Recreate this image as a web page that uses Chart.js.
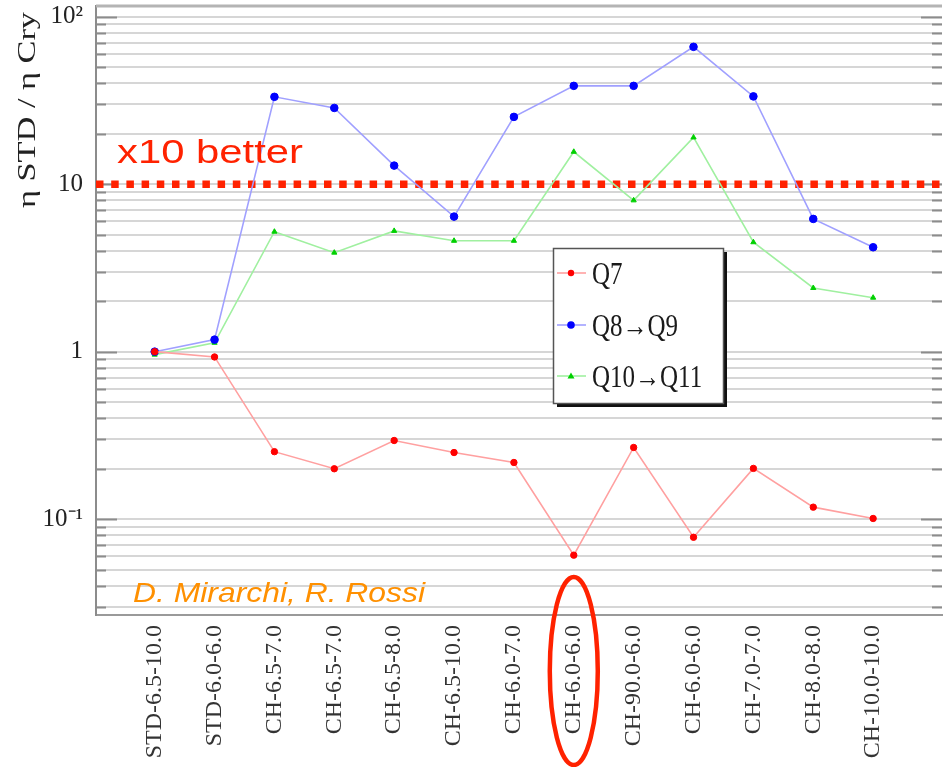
<!DOCTYPE html>
<html>
<head>
<meta charset="utf-8">
<script src="https://cdn.jsdelivr.net/npm/chart.js@4/dist/chart.umd.min.js"></script>
<style>
  html, body { margin: 0; padding: 0; background: #fff; overflow: hidden; }
  canvas { display: block; }
</style>
</head>
<body>
<canvas id="chart" width="947" height="767"></canvas>
<script>
// Collimator configurations (x categories)
const configs = ['STD-6.5-10.0', 'STD-6.0-6.0', 'CH-6.5-7.0', 'CH-6.5-7.0', 'CH-6.5-8.0',
  'CH-6.5-10.0', 'CH-6.0-7.0', 'CH-6.0-6.0', 'CH-90.0-6.0', 'CH-6.0-6.0',
  'CH-7.0-7.0', 'CH-8.0-8.0', 'CH-10.0-10.0'];

// Cleaning inefficiency ratio eta STD / eta Cry per loss location
const q7     = [1.0, 0.93, 0.253, 0.200, 0.295, 0.250, 0.218, 0.061, 0.268, 0.078, 0.201, 0.118, 0.101];
const q8q9   = [1.0, 1.18, 33.2, 28.5, 12.9, 6.4, 25.2, 38.6, 38.6, 66.0, 33.4, 6.2, 4.2];
const q10q11 = [0.96, 1.13, 5.2, 3.9, 5.26, 4.59, 4.59, 15.6, 8.0, 19.0, 4.5, 2.4, 2.1];

const seriesNames = ['Q7', 'Q8\u2192Q9', 'Q10\u2192Q11'];

// Reference level for a factor 10 improvement
const betterLevel = 10;

// Labelled decades on the log axis
const yTickValues = [0.1, 1, 10, 100];
const yTickLabels = ['10\u207B\u00B9', '1', '10', '10\u00B2'];

const X_MIN = -0.98, X_MAX = 13.15;
const Y_MIN = 0.0268, Y_MAX = 115.7;

const pts = arr => arr.map((v, i) => ({ x: i, y: v }));

const styles = [
  { line: '#ffa0a0', mark: '#ff0000', pointStyle: 'circle', r: 3.2 },
  { line: '#a0a0ff', mark: '#0000ff', pointStyle: 'circle', r: 3.8 },
  { line: '#a0f0a0', mark: '#00d000', pointStyle: 'triangle', r: 3.0 }
];
const seriesData = [q7, q8q9, q10q11];

const datasets = seriesData.map((arr, k) => ({
  label: seriesNames[k],
  data: pts(arr),
  borderColor: styles[k].line,
  borderWidth: 1.6,
  pointBackgroundColor: styles[k].mark,
  pointBorderColor: styles[k].mark,
  pointBorderWidth: 1,
  pointRadius: styles[k].r,
  pointStyle: styles[k].pointStyle,
  tension: 0
}));

// Dotted "x10 better" line across the whole frame
datasets.push({
  label: 'x10',
  data: [{ x: X_MIN, y: betterLevel }, { x: X_MAX, y: betterLevel }],
  borderColor: '#ff2200',
  borderWidth: 7.5,
  borderDash: [7.5, 7.7],
  borderCapStyle: 'butt',
  pointRadius: 0,
  tension: 0
});

function drawFitted(ctx, text, font, color, x, y, width, sy, align) {
  ctx.save();
  ctx.font = font;
  ctx.fillStyle = color;
  ctx.textBaseline = 'alphabetic';
  ctx.textAlign = 'left';
  const w = ctx.measureText(text).width;
  const sx = width ? width / w : 1;
  ctx.translate(x, y);
  ctx.scale(sx, sy || 1);
  ctx.fillText(text, align === 'center' ? -w / 2 : 0, 0);
  ctx.restore();
}

const framePlugin = {
  id: 'frame',
  beforeDatasetsDraw(chart) {
    const { ctx, chartArea: a } = chart;
    const ys = chart.scales.y;
    ctx.save();
    // top frame edge
    ctx.strokeStyle = '#b4b4b4';
    ctx.lineWidth = 3;
    ctx.beginPath();
    ctx.moveTo(a.left, a.top);
    ctx.lineTo(a.right, a.top);
    ctx.stroke();
    // inward tick marks on both vertical edges
    ctx.strokeStyle = '#8c8c8c';
    ctx.lineWidth = 2;
    ys.ticks.forEach(t => {
      const major = yTickValues.includes(t.value);
      const len = major ? 21 : 10;
      const py = Math.round(ys.getPixelForValue(t.value)) + 0.5;
      ctx.beginPath();
      ctx.moveTo(a.left, py); ctx.lineTo(a.left + len, py);
      ctx.moveTo(a.right, py); ctx.lineTo(a.right - len, py);
      ctx.stroke();
    });
    ctx.restore();
  },
  afterDraw(chart) {
    const { ctx, chartArea: a } = chart;
    const xs = chart.scales.x, ys = chart.scales.y;

    // y axis title
    ctx.save();
    ctx.translate(28, a.top + 104);
    ctx.rotate(-Math.PI / 2);
    ctx.font = '26px "Liberation Serif"';
    const title = '\u03B7 STD / \u03B7 Cry';
    const tw = ctx.measureText(title).width;
    ctx.scale(196 / tw, 1);
    ctx.fillStyle = '#222';
    ctx.textAlign = 'center';
    ctx.textBaseline = 'middle';
    ctx.fillText(title, 0, 0);
    ctx.restore();

    // legend
    const lx = 553, ly = 248, lw = 170, lh = 155;
    ctx.save();
    ctx.fillStyle = '#111';
    ctx.fillRect(lx + 4, ly + 4, lw, lh);
    ctx.fillStyle = '#fff';
    ctx.fillRect(lx, ly, lw, lh);
    ctx.strokeStyle = '#555';
    ctx.lineWidth = 1.5;
    ctx.strokeRect(lx + 0.5, ly + 0.5, lw, lh);
    const rowY = [273, 325, 376];
    seriesNames.forEach((name, k) => {
      const y = rowY[k];
      ctx.strokeStyle = styles[k].line;
      ctx.lineWidth = 1.6;
      ctx.beginPath();
      ctx.moveTo(lx + 4, y); ctx.lineTo(lx + 33, y);
      ctx.stroke();
      ctx.fillStyle = styles[k].mark;
      ctx.beginPath();
      if (styles[k].pointStyle === 'triangle') {
        ctx.moveTo(lx + 18, y - 3.5); ctx.lineTo(lx + 21.5, y + 2.5); ctx.lineTo(lx + 14.5, y + 2.5);
        ctx.closePath();
      } else {
        ctx.arc(lx + 18, y, styles[k].r, 0, Math.PI * 2);
      }
      ctx.fill();
      drawFitted(ctx, name, '25px "Liberation Serif"', '#1a1a1a', lx + 39, y + 11, null, 1.25);
    });
    ctx.restore();

    // "x10 better" label above the reference line
    const yTen = ys.getPixelForValue(betterLevel);
    drawFitted(ctx, 'x10 better', '33px "Liberation Sans"', '#ff2200', 117, yTen - 21, 186, 1);

    // authors
    drawFitted(ctx, 'D. Mirarchi, R. Rossi', 'italic 30px "Liberation Sans"', '#ff9000', 133, a.bottom - 13, 292, 0.95);

    // highlight the CH-6.0-6.0 configuration
    ctx.save();
    ctx.strokeStyle = '#ff2200';
    ctx.lineWidth = 4.5;
    ctx.beginPath();
    ctx.ellipse(xs.getPixelForValue(7), 671, 24, 94, 0, 0, Math.PI * 2);
    ctx.stroke();
    ctx.restore();
  }
};

Chart.defaults.font.family = '"Liberation Serif", serif';
Chart.defaults.color = '#222';

new Chart(document.getElementById('chart'), {
  type: 'line',
  data: { datasets },
  plugins: [framePlugin],
  options: {
    responsive: false,
    animation: false,
    layout: { padding: { top: 6, right: 1, left: 0, bottom: 0 } },
    plugins: { legend: { display: false }, tooltip: { enabled: false } },
    scales: {
      x: {
        type: 'linear',
        min: X_MIN,
        max: X_MAX,
        afterFit(s) { s.height = 152; s.paddingLeft = 0; s.paddingRight = 0; },
        afterBuildTicks(s) { s.ticks = configs.map((_, i) => ({ value: i })); },
        grid: { display: false, drawTicks: false },
        border: { display: true, color: '#9a9a9a', width: 2 },
        ticks: {
          autoSkip: false,
          minRotation: 90,
          maxRotation: 90,
          padding: 10,
          color: '#333',
          font: { size: 24, family: '"Liberation Serif", serif' },
          callback: v => configs[v] ?? ''
        }
      },
      y: {
        type: 'logarithmic',
        min: Y_MIN,
        max: Y_MAX,
        afterFit(s) { s.width = 96; s.paddingTop = 0; s.paddingBottom = 0; },
        afterBuildTicks(s) {
          const t = [];
          for (let e = -2; e <= 2; e++) {
            for (let m = 1; m <= 9; m++) {
              const v = Number((m * Math.pow(10, e)).toPrecision(6));
              if (v >= Y_MIN && v <= Y_MAX) t.push({ value: v });
            }
          }
          s.ticks = t;
        },
        grid: { color: '#d6d6d6', lineWidth: 2, drawTicks: false },
        border: { display: true, color: '#8c8c8c', width: 2 },
        ticks: {
          autoSkip: false,
          padding: 13,
          color: '#222',
          font: { size: 25, family: '"Liberation Serif", serif' },
          callback: v => {
            const i = yTickValues.findIndex(t => Math.abs(t - v) < 1e-9);
            return i >= 0 ? yTickLabels[i] : '';
          }
        }
      }
    }
  }
});
</script>
</body>
</html>
